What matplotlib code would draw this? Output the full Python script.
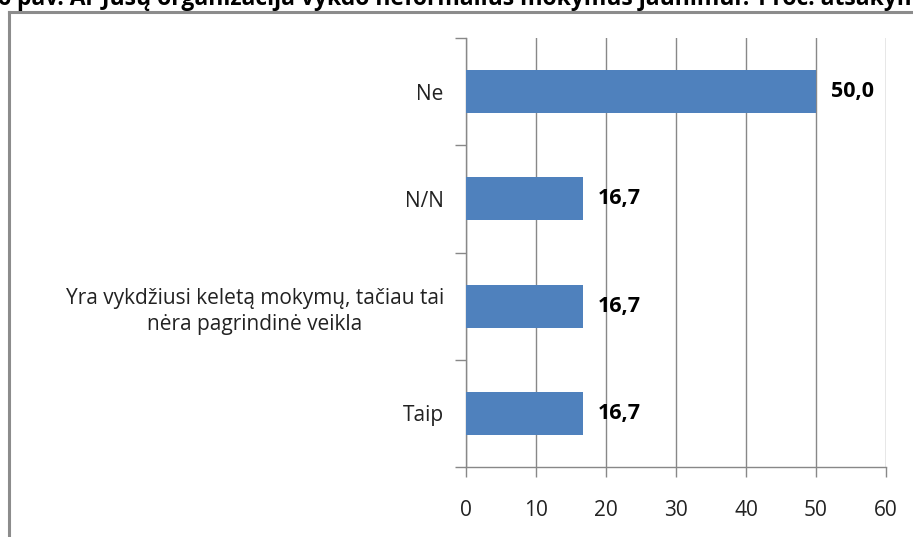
import matplotlib
matplotlib.use("Agg")
import matplotlib.pyplot as plt
from matplotlib.lines import Line2D

categories = ["Taip", "Yra vykdžiusi keletą mokymų, tačiau tai\nnėra pagrindinė veikla", "N/N", "Ne"]
values = [16.7, 16.7, 16.7, 50.0]
xticks = [0, 10, 20, 30, 40, 50, 60]
title = "6 pav. Ar Jūsų organizacija vykdo neformalius mokymus jaunimui? Proc. atsakymų"

plt.rcParams['font.family'] = ['Open Sans', 'DejaVu Sans']

W, H = 913, 537
fig = plt.figure(figsize=(W / 100, H / 100), dpi=100)
fig.patch.set_facecolor("white")

ax = fig.add_axes([466 / W, 1 - 467 / H, (886 - 466) / W, (467 - 38) / H])
ypos = list(range(len(categories)))
ax.barh(ypos, values, height=0.4, color="#4F81BD", zorder=3)
ax.set_xlim(0, 60)
ax.set_ylim(-0.5, len(categories) - 0.5)
ax.set_xticks(xticks)
ax.set_xticklabels([str(t) for t in xticks], fontsize=15, color="#222222")
ax.set_yticks(ypos)
ax.set_yticklabels(categories, fontsize=15, color="#222222", linespacing=1.35,
                   multialignment="center")
ax.tick_params(axis="y", length=0, pad=16)
ax.set_yticks([p - 0.5 for p in ypos] + [len(categories) - 0.5], minor=True)
ax.tick_params(axis="y", which="minor", length=8, color="#888888", width=1)
ax.tick_params(axis="x", length=7, color="#888888", width=1, pad=17)
ax.grid(axis="x", color="#888888", linewidth=1, zorder=0)
for s in ["top", "right"]:
    ax.spines[s].set_visible(False)
for s in ["left", "bottom"]:
    ax.spines[s].set_color("#888888")
    ax.spines[s].set_linewidth(1)

for y, v in zip(ypos, values):
    ax.text(v + 2.1, y, f"{v:.1f}".replace(".", ","), va="center", ha="left",
            fontsize=15.5, fontweight="bold", color="black", zorder=4)

# chart frame (cut off at right and bottom)
fig.add_artist(Line2D([8.5 / W, 8.5 / W], [0, 1 - 12 / H], color="#8c8c8c", linewidth=2.2,
                      transform=fig.transFigure))
fig.add_artist(Line2D([8.5 / W, 1], [1 - 12 / H, 1 - 12 / H], color="#8c8c8c", linewidth=2.2,
                      transform=fig.transFigure))

fig.text(-2 / W, 1 - 5 / H, title, fontsize=16.5, fontweight="bold", ha="left", va="baseline",
         color="black")

fig.savefig("out.png", dpi=100)
